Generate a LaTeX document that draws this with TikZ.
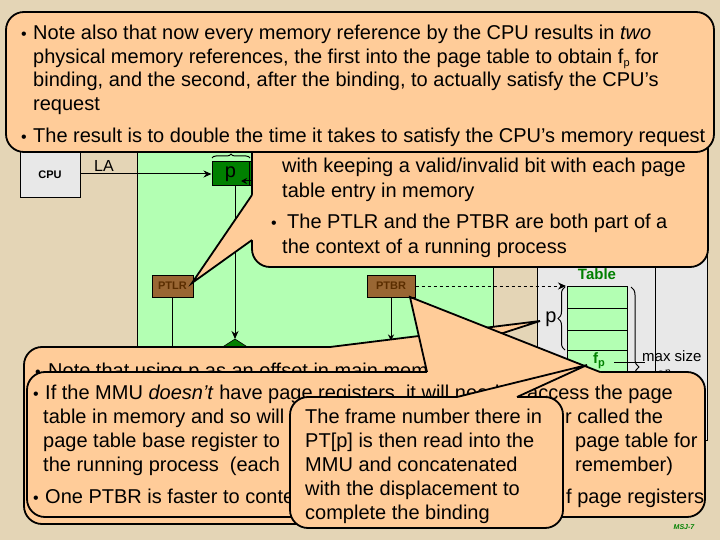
\documentclass[tikz,border=0pt]{standalone}
\usepackage{fontspec}
\setmainfont{Liberation Sans}
\usetikzlibrary{arrows.meta,decorations.pathreplacing}
\definecolor{parch}{RGB}{228,213,182}
\definecolor{peach}{RGB}{255,204,153}
\definecolor{mmugreen}{RGB}{179,255,179}
\definecolor{memgray}{RGB}{232,232,232}
\definecolor{dkgreen}{RGB}{0,128,0}
\definecolor{brn}{RGB}{153,102,51}
\definecolor{dkbrn}{RGB}{90,45,0}
\definecolor{lblgreen}{RGB}{0,128,0}
\tikzset{
  callout/.style={fill=peach, draw=black, line width=1.8pt, rounded corners=18pt},
  ptrfill/.style={fill=peach},
  ptredge/.style={draw=black, line width=1.8pt, line join=miter},
  txt/.style={anchor=base west, inner sep=0pt, font=\fontsize{20}{24}\selectfont},
  txtE/.style={anchor=base east, inner sep=0pt, font=\fontsize{20}{24}\selectfont},
  bul/.style={anchor=base west, inner sep=0pt, font=\fontsize{16}{16}\selectfont},
  regbox/.style={draw=black, line width=1pt, fill=brn, inner sep=0pt, minimum height=22pt, font=\bfseries\fontsize{11}{11}\selectfont, text=dkbrn},
  wire/.style={line width=1pt},
  tip/.style={-{Stealth[length=8pt,width=7pt]}},
  lbl/.style={inner sep=0pt}
}
\begin{document}
\begin{tikzpicture}[x=1pt,y=-1pt]
\useasboundingbox (0,0) rectangle (720,540);
\fill[parch] (0,0) rectangle (720,540);

% ---------- memory side ----------
\draw[fill=memgray, line width=1pt] (537,200) rectangle (707,440);
\draw[wire] (655,200) -- (655,440);
\draw[fill=mmugreen, line width=1pt] (567,286) rectangle (627,400);
\foreach \yy in {308,330,350,372} \draw[wire] (567,\yy) -- (627,\yy);
\coordinate (tbltop) at (566,286);
\node[lbl, font=\bfseries\fontsize{15}{15}\selectfont, text=lblgreen] (tbllbl) at (597,274) {Table};
\draw[wire, decorate, decoration={brace, amplitude=7pt}] (565,350) -- (565,287);
\node[lbl, anchor=base, font=\fontsize{20}{20}\selectfont] (plbl) at (551,322) {p};
\draw[wire, decorate, decoration={brace, amplitude=8pt}] (631,287) -- (631,447);
\node[lbl, anchor=base, font=\bfseries\fontsize{15}{15}\selectfont, text=lblgreen] (fp) at (599,363) {f\raisebox{-3pt}{\fontsize{11}{11}\selectfont p}};
\coordinate (fpline) at (614,362);
\draw[wire] (fpline) -- ++(31,0);
\node[lbl, anchor=base west, font=\fontsize{15}{15}\selectfont] (maxs) at (642,361) {max size};
\node[lbl, anchor=base, font=\fontsize{15}{15}\selectfont] (twon) at (664,381) {2\textsuperscript{n}};

% ---------- MMU ----------
\draw[fill=mmugreen, line width=1pt] (137,120) rectangle (493,347);
\node[draw, fill=memgray, line width=1pt, minimum width=60pt, minimum height=47pt, inner sep=0pt, font=\bfseries\fontsize{11}{11}\selectfont] (cpu) at (50,174.5) {CPU};
\node[draw, fill=dkgreen, line width=1pt, minimum width=37pt, minimum height=24pt, inner sep=0pt, font=\fontsize{20}{20}\selectfont] (pbox) at (230.5,174) {p};
\node[draw, fill=dkgreen, line width=1pt, minimum width=40pt, minimum height=24pt, inner sep=0pt] (dbox) at (269,174) {};
\draw[wire, decorate, decoration={brace, amplitude=4pt}] (212,158) -- (250,158);
\draw[wire, tip] (cpu.east |- pbox.west) -- (pbox.west);
\node[lbl, anchor=base, font=\fontsize{16}{16}\selectfont] (la) at (104,172) {LA};
\coordinate (dsrc) at (256,181);
\draw[wire, -{Stealth[length=6pt,width=6pt]}] (dsrc) -- ++(-15,0);
\coordinate (adder) at (235,339);
\fill[dkgreen, draw=black, line width=0.6pt] (221,348) -- (adder) -- (249,348) -- cycle;
\draw[wire, tip] (pbox.south -| adder) -- (adder);
\node[regbox, minimum width=41pt] (ptlr) at (172.5,286) {PTLR};
\node[regbox, minimum width=48pt] (ptbr) at (391,286) {PTBR};
\draw[wire] (ptlr.south) -- ++(0,52);
\draw[wire, -{Stealth[length=6pt,width=6pt]}] (ptbr.south) -- ++(0,43);
\draw[wire, dashed, tip] (ptbr.east) -- (tbltop);

% ---------- callout C ----------
\draw[callout] (252,110) rectangle (708,267);
\fill[ptrfill] (252,195) -- (192,283) -- (252,240) -- (257,240) -- (257,195) -- cycle;
\draw[ptredge] (252,195) -- (192,283) -- (252,240);
\node[txt] (c1) at (282,173) {with keeping a valid/invalid bit with each page};
\node[txt] (c2) at (282,197) {table entry in memory};
\node[bul] (c3) at (271,229) {•};
\node[txt] (c4) at (287,229) {The PTLR and the PTBR are both part of a};
\node[txt] (c5) at (282,253) {the context of a running process};

% ---------- callout A ----------
\draw[callout] (6,12) rectangle (714,152);
\node[bul] (a0) at (21,40) {•};
\node[txt] (a1) at (33,40) {Note also that now every memory reference by the CPU results in \textit{two}};
\node[txt] (a2) at (33,63.5) {physical memory references, the first into the page table to obtain f\raisebox{-3pt}{\fontsize{11}{11}\selectfont p} for};
\node[txt] (a3) at (33,87) {binding, and the second, after the binding, to actually satisfy the CPU’s};
\node[txt] (a4) at (33,110.5) {request};
\node[bul] (a5) at (21,143) {•};
\node[txt] (a6) at (33,143) {The result is to double the time it takes to satisfy the CPU’s memory request};

% ---------- callout D ----------
\draw[callout] (24,347) rectangle (540,524);
\fill[ptrfill] (330,347) -- (540,321) -- (460,347) -- (460,352) -- (330,352) -- cycle;
\draw[ptredge] (330,347) -- (540,321) -- (460,347);
\node[bul] (d0) at (35,377) {•};
\node[txt] (d1) at (48,377) {Note that using p as an offset in main memory};

% ---------- callout E ----------
\draw[callout] (27,372) rectangle (705,517);
\fill[ptrfill] (427,372) -- (410,297) -- (600,372) -- (600,377) -- (427,377) -- cycle;
\draw[ptredge] (427,372) -- (410,297) -- (600,372);
\node[bul] (e0) at (33,399) {•};
\node[txt] (e1) at (45,399) {If the MMU \textit{doesn’t} have page registers, it will need to access the page};
\node[txt] (e2) at (43,423) {table in memory and so will};
\node[txt] (e2r) at (565,423) {r called the};
\node[txt] (e3) at (43,447) {page table base register to};
\node[txt] (e3r) at (575,447) {page table for};
\node[txt] (e4) at (43,471) {the running process\ \ (each};
\node[txt] (e4r) at (575,471) {remember)};
\node[bul] (e5) at (33,503) {•};
\node[txt] (e6) at (45,503) {One PTBR is faster to conte};
\node[txt] (e6r) at (566,503) {f page registers};

% ---------- callout G ----------
\draw[callout] (290,397) rectangle (563,528);
\fill[ptrfill] (457,397) -- (587,365) -- (517,397) -- (517,402) -- (457,402) -- cycle;
\draw[ptredge] (457,397) -- (587,365) -- (517,397);
\node[txt] (g1) at (305,423) {The frame number there in};
\node[txt] (g2) at (305,447) {PT[p] is then read into the};
\node[txt] (g3) at (305,471) {MMU and concatenated};
\node[txt] (g4) at (305,495) {with the displacement to};
\node[txt] (g5) at (305,519) {complete the binding};

\node[lbl, font=\bfseries\itshape\fontsize{7}{7}\selectfont, text=lblgreen] (msj) at (684,527) {MSJ-7};
\end{tikzpicture}
\end{document}
